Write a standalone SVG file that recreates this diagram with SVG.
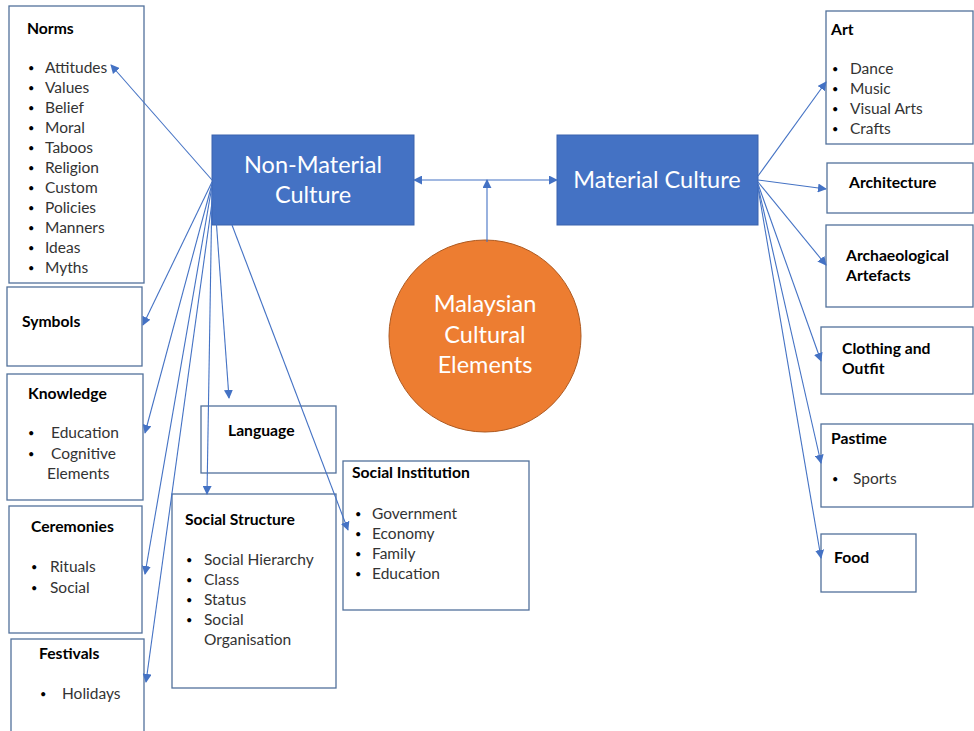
<svg xmlns="http://www.w3.org/2000/svg" width="974" height="731" viewBox="0 0 974 731">
<style>
.box{fill:#fff;stroke:#52719b;stroke-width:1.3}
.t{font-family:Lato,"Open Sans",sans-serif;font-weight:bold;font-size:15.7px;fill:#000}
.i{font-family:Lato,"Open Sans",sans-serif;font-size:15.5px;fill:#333}
.b{font-size:11px;fill:#000}
.w{font-family:Lato,"Open Sans",sans-serif;font-size:23.5px;fill:#fff;text-anchor:middle}
.c{fill:none;stroke:#4472c4;stroke-width:1.1}
</style>
<defs>
<marker id="ah" viewBox="0 0 10 10" refX="9" refY="5" markerWidth="9" markerHeight="9" markerUnits="userSpaceOnUse" orient="auto-start-reverse">
<path d="M0,0 L10,5 L0,10 z" fill="#4472c4"/>
</marker>
</defs>
<rect width="974" height="731" fill="#fff"/>

<g id="norms">
<rect class="box" x="9" y="6" width="135" height="277"/>
<text class="t" x="27" y="34">Norms</text>
<g class="i">
<text class="b" x="28" y="72">•</text><text x="45" y="73">Attitudes</text>
<text class="b" x="28" y="92">•</text><text x="45" y="93">Values</text>
<text class="b" x="28" y="112">•</text><text x="45" y="113">Belief</text>
<text class="b" x="28" y="132">•</text><text x="45" y="133">Moral</text>
<text class="b" x="28" y="152">•</text><text x="45" y="153">Taboos</text>
<text class="b" x="28" y="172">•</text><text x="45" y="173">Religion</text>
<text class="b" x="28" y="192">•</text><text x="45" y="193">Custom</text>
<text class="b" x="28" y="212">•</text><text x="45" y="213">Policies</text>
<text class="b" x="28" y="232">•</text><text x="45" y="233">Manners</text>
<text class="b" x="28" y="252">•</text><text x="45" y="253">Ideas</text>
<text class="b" x="28" y="272">•</text><text x="45" y="273">Myths</text>
</g>
</g>

<g id="symbols">
<rect class="box" x="7" y="287" width="135" height="79"/>
<text class="t" x="22" y="327">Symbols</text>
</g>

<g id="knowledge">
<rect class="box" x="7" y="374" width="136" height="126"/>
<text class="t" x="28" y="399">Knowledge</text>
<g class="i">
<text class="b" x="28" y="437">•</text><text x="51" y="438">Education</text>
<text class="b" x="28" y="458">•</text><text x="51" y="459">Cognitive</text>
<text x="47" y="479">Elements</text>
</g>
</g>

<g id="ceremonies">
<rect class="box" x="9" y="506" width="133" height="127"/>
<text class="t" x="31" y="532">Ceremonies</text>
<g class="i">
<text class="b" x="31" y="571">•</text><text x="50" y="572">Rituals</text>
<text class="b" x="31" y="592">•</text><text x="50" y="593">Social</text>
</g>
</g>

<g id="festivals">
<rect class="box" x="11" y="639" width="133" height="100"/>
<text class="t" x="39" y="659">Festivals</text>
<g class="i">
<text class="b" x="40" y="698">•</text><text x="62" y="699">Holidays</text>
</g>
</g>

<g id="language">
<rect class="box" x="201" y="406" width="135" height="67"/>
<text class="t" x="228" y="436">Language</text>
</g>

<g id="social-structure">
<rect class="box" x="172" y="494" width="164" height="194"/>
<text class="t" x="185" y="525">Social Structure</text>
<g class="i">
<text class="b" x="186" y="564">•</text><text x="204" y="565">Social Hierarchy</text>
<text class="b" x="186" y="584">•</text><text x="204" y="585">Class</text>
<text class="b" x="186" y="604">•</text><text x="204" y="605">Status</text>
<text class="b" x="186" y="624">•</text><text x="204" y="625">Social</text>
<text x="204" y="645">Organisation</text>
</g>
</g>

<g id="social-institution">
<rect class="box" x="343" y="461" width="186" height="149"/>
<text class="t" x="352" y="478">Social Institution</text>
<g class="i">
<text class="b" x="355" y="518">•</text><text x="372" y="519">Government</text>
<text class="b" x="355" y="538">•</text><text x="372" y="539">Economy</text>
<text class="b" x="355" y="558">•</text><text x="372" y="559">Family</text>
<text class="b" x="355" y="578">•</text><text x="372" y="579">Education</text>
</g>
</g>

<g id="non-material">
<rect x="212" y="135" width="202" height="90" fill="#4472c4" stroke="#3a63ad" stroke-width="1"/>
<text class="w" x="313" y="173">Non-Material</text>
<text class="w" x="313" y="203">Culture</text>
</g>

<g id="material">
<rect x="557" y="135" width="201" height="90" fill="#4472c4" stroke="#3a63ad" stroke-width="1"/>
<text class="w" x="657" y="188">Material Culture</text>
</g>

<g id="malaysian">
<circle cx="485" cy="336" r="96" fill="#ed7d31" stroke="#ae5a21" stroke-width="1"/>
<text class="w" x="485" y="312">Malaysian</text>
<text class="w" x="485" y="343">Cultural</text>
<text class="w" x="485" y="373">Elements</text>
</g>

<g id="art">
<rect class="box" x="826" y="11" width="147" height="133"/>
<text class="t" x="831" y="35">Art</text>
<g class="i">
<text class="b" x="832" y="73">•</text><text x="850" y="74">Dance</text>
<text class="b" x="832" y="93">•</text><text x="850" y="94">Music</text>
<text class="b" x="832" y="113">•</text><text x="850" y="114">Visual Arts</text>
<text class="b" x="832" y="133">•</text><text x="850" y="134">Crafts</text>
</g>
</g>

<g id="architecture">
<rect class="box" x="827" y="163" width="146" height="50"/>
<text class="t" x="849" y="188">Architecture</text>
</g>

<g id="archaeological">
<rect class="box" x="826" y="225" width="147" height="82"/>
<text class="t" x="846" y="261">Archaeological</text>
<text class="t" x="846" y="281">Artefacts</text>
</g>

<g id="clothing">
<rect class="box" x="821" y="327" width="152" height="67"/>
<text class="t" x="842" y="354">Clothing and</text>
<text class="t" x="842" y="374">Outfit</text>
</g>

<g id="pastime">
<rect class="box" x="821" y="424" width="152" height="83"/>
<text class="t" x="831" y="444">Pastime</text>
<g class="i">
<text class="b" x="832" y="483">•</text><text x="853" y="484">Sports</text>
</g>
</g>

<g id="food">
<rect class="box" x="821" y="534" width="95" height="58"/>
<text class="t" x="834" y="563">Food</text>
</g>

<g id="connectors">
<path class="c" d="M414,180 L557,180" marker-start="url(#ah)" marker-end="url(#ah)"/>
<path class="c" d="M487,242 L487,180" marker-end="url(#ah)"/>
<path class="c" d="M212,180 L111,65" marker-end="url(#ah)"/>
<path class="c" d="M212,182 L143,325" marker-end="url(#ah)"/>
<path class="c" d="M212,184 L145,433" marker-end="url(#ah)"/>
<path class="c" d="M212,186 L145,574" marker-end="url(#ah)"/>
<path class="c" d="M214,188 L146,682" marker-end="url(#ah)"/>
<path class="c" d="M214,190 L229,398" marker-end="url(#ah)"/>
<path class="c" d="M212,190 L207,494" marker-end="url(#ah)"/>
<path class="c" d="M232,225 L348,530" marker-end="url(#ah)"/>
<path class="c" d="M758,176 L826,82" marker-end="url(#ah)"/>
<path class="c" d="M758,180 L826,189" marker-end="url(#ah)"/>
<path class="c" d="M758,182 L826,265" marker-end="url(#ah)"/>
<path class="c" d="M758,184 L821,361" marker-end="url(#ah)"/>
<path class="c" d="M758,186 L821,463" marker-end="url(#ah)"/>
<path class="c" d="M758,188 L821,558" marker-end="url(#ah)"/>
</g>
</svg>
